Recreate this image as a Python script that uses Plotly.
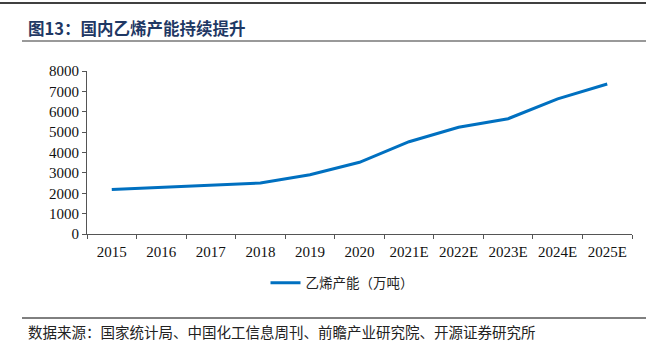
import plotly.graph_objects as go

years = ["2015", "2016", "2017", "2018", "2019", "2020", "2021E", "2022E", "2023E", "2024E", "2025E"]
capacity = [2190, 2290, 2370, 2500, 2910, 3520, 4530, 5240, 5660, 6630, 7360]
y_ticks = [0, 1000, 2000, 3000, 4000, 5000, 6000, 7000, 8000]

W, H = 646, 351
L, R, T, B = 87, 14, 71, 117
pw, ph = W - L - R, H - T - B

def px(x):
    return (x - L) / pw

def py(y):
    return (H - B - y) / ph

cjk = "Noto Sans CJK SC"
serif = "Liberation Serif, Times New Roman, serif"

fig = go.Figure()
fig.add_trace(go.Scatter(
    x=years, y=capacity, mode="lines", name="乙烯产能（万吨）",
    line=dict(color="#0070C0", width=3)
))

fig.update_layout(
    width=W, height=H,
    margin=dict(l=L, r=R, t=T, b=B),
    paper_bgcolor="white", plot_bgcolor="white",
    showlegend=True,
    legend=dict(orientation="h", x=px(342), xanchor="center", y=py(283), yanchor="middle",
                font=dict(family=cjk, size=13.5, color="#222"), bgcolor="rgba(0,0,0,0)",
                itemwidth=30, tracegroupgap=0),
    xaxis=dict(type="category", showgrid=False, showline=True, linecolor="#555", linewidth=1,
               ticks="outside", ticklen=4, tickcolor="#555", tickson="boundaries",
               ticklabelstandoff=4,
               tickfont=dict(family=serif, size=15, color="#111"), range=[-0.5, 10.5]),
    yaxis=dict(range=[0, 8000], tickvals=y_ticks, showgrid=False, showline=True, linecolor="#555",
               linewidth=1, ticks="outside", ticklen=4, tickcolor="#555", zeroline=False,
               tickfont=dict(family=serif, size=15, color="#111")),
    shapes=[
        dict(type="line", xref="paper", yref="paper", x0=px(0), x1=px(646), y0=py(3), y1=py(3),
             line=dict(color="#000", width=1.5)),
        dict(type="line", xref="paper", yref="paper", x0=px(22), x1=px(646), y0=py(41), y1=py(41),
             line=dict(color="#999", width=2)),
        dict(type="line", xref="paper", yref="paper", x0=px(22), x1=px(646), y0=py(318), y1=py(318),
             line=dict(color="#000", width=1)),
    ],
    annotations=[
        dict(text="<b>图13：国内乙烯产能持续提升</b>", xref="paper", yref="paper", x=px(26), y=py(28),
             xanchor="left", yanchor="middle", showarrow=False,
             font=dict(family=cjk, size=16.5, color="#1F3864")),
        dict(text="数据来源：国家统计局、中国化工信息周刊、前瞻产业研究院、开源证券研究所", xref="paper", yref="paper",
             x=px(26), y=py(331), xanchor="left", yanchor="middle", showarrow=False,
             font=dict(family=cjk, size=14.5, color="#222")),
    ],
)

fig.write_html("out.html")
